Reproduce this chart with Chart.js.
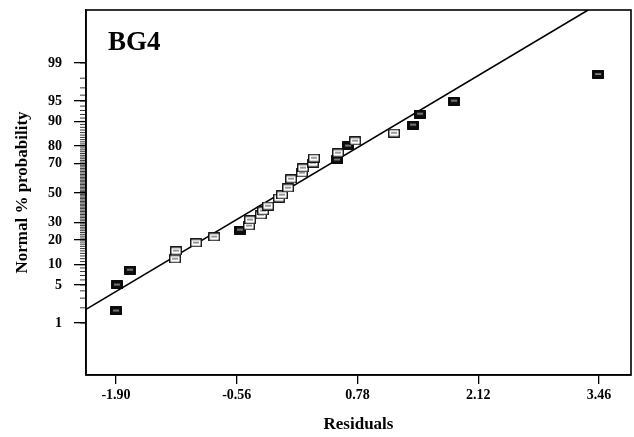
<!DOCTYPE html>
<html><head><meta charset="utf-8">
<script src="https://cdn.jsdelivr.net/npm/chart.js@4.4.1/dist/chart.umd.min.js"></script>
<style>html,body{margin:0;padding:0;background:#fff;}</style>
</head><body>
<canvas id="c" width="634" height="437"></canvas>
<script>
const panelLabel = 'BG4';
const xAxisTitle = 'Residuals';
const yAxisTitle = 'Normal % probability';
const xTickValues = [-1.90, -0.56, 0.78, 2.12, 3.46];
const yTickPercents = [1, 5, 10, 20, 30, 50, 70, 80, 90, 95, 99];

const lightResiduals = [-1.245, -1.234, -1.012, -0.81, -0.424, -0.413, -0.291, -0.268, -0.213, -0.091, -0.058, 0.009, 0.042, 0.164, 0.175, 0.286, 0.297, 0.564, 0.753, 1.185];
const lightPercents  = [11.9, 15.0, 18.6, 21.6, 27.8, 31.5, 34.7, 37.4, 40.8, 46.4, 48.6, 53.6, 59.9, 64.0, 67.3, 70.4, 73.4, 76.3, 82.4, 85.8];
const darkResiduals = [-1.90, -1.89, -1.745, -0.524, 0.553, 0.675, 1.396, 1.474, 1.851, 3.45];
const darkPercents  = [1.74, 5.0, 8.4, 25.4, 72.3, 80.0, 88.8, 92.1, 95.0, 98.3];

const fitResiduals = [-2.244, 3.339];
const fitPercents  = [1.82, 99.947];

function probit(p){
  const a=[-3.969683028665376e+01,2.209460984245205e+02,-2.759285104469687e+02,1.383577518672690e+02,-3.066479806614716e+01,2.506628277459239e+00];
  const b=[-5.447609879822406e+01,1.615858368580409e+02,-1.556989798598866e+02,6.680131188771972e+01,-1.328068155288572e+01];
  const c=[-7.784894002430293e-03,-3.223964580411365e-01,-2.400758277161838e+00,-2.549732539343734e+00,4.374664141464968e+00,2.938163982698783e+00];
  const d=[7.784695709041462e-03,3.224671290700398e-01,2.445134137142996e+00,3.754408661907416e+00];
  const pl=0.02425, ph=1-pl; let q,r;
  if(p<pl){q=Math.sqrt(-2*Math.log(p));return (((((c[0]*q+c[1])*q+c[2])*q+c[3])*q+c[4])*q+c[5])/((((d[0]*q+d[1])*q+d[2])*q+d[3])*q+1);}
  if(p>ph){q=Math.sqrt(-2*Math.log(1-p));return -(((((c[0]*q+c[1])*q+c[2])*q+c[3])*q+c[4])*q+c[5])/((((d[0]*q+d[1])*q+d[2])*q+d[3])*q+1);}
  q=p-0.5;r=q*q;return (((((a[0]*r+a[1])*r+a[2])*r+a[3])*r+a[4])*r+a[5])*q/(((((b[0]*r+b[1])*r+b[2])*r+b[3])*r+b[4])*r+1);
}
const toPts = (xs, ps) => xs.map((x,i)=>({x:x, y:probit(ps[i]/100)}));

function marker(dark){
  const cv=document.createElement('canvas'); cv.width=12; cv.height=9;
  const g=cv.getContext('2d');
  g.fillStyle = dark ? '#111' : '#fff';
  g.fillRect(0.5,0.5,11,8);
  g.strokeStyle='#000'; g.lineWidth=1.3; g.strokeRect(0.75,0.75,10.5,7.5);
  if(!dark){ g.fillStyle='#777'; g.fillRect(3,3.5,6,1.5); }
  else { g.fillStyle='#bbb'; g.fillRect(3,3.5,6,1.2); }
  return cv;
}

const serif = '"Liberation Serif", "DejaVu Serif", serif';

const decor = {
  id:'decor',
  afterDraw(chart){
    const {ctx, chartArea:ca, scales} = chart;
    ctx.save();
    ctx.strokeStyle='#000'; ctx.lineWidth=1.6;
    ctx.strokeRect(ca.left, ca.top, ca.right-ca.left, ca.bottom-ca.top);
    ctx.lineWidth=0.8;
    for(let p=1;p<=99;p++){
      const y=scales.y.getPixelForValue(probit(p/100));
      ctx.beginPath(); ctx.moveTo(ca.left-6,y); ctx.lineTo(ca.left,y); ctx.stroke();
    }
    ctx.fillStyle='#000';
    ctx.font='bold 27px '+serif;
    ctx.textAlign='left'; ctx.textBaseline='alphabetic';
    ctx.fillText(panelLabel, ca.left+22, ca.top+40);
    ctx.restore();
  }
};

function noPad(s){ s.paddingTop=0; s.paddingBottom=0; s.paddingLeft=0; s.paddingRight=0; }

new Chart(document.getElementById('c'), {
  type:'scatter',
  data:{datasets:[
    {data: toPts(fitResiduals, fitPercents), showLine:true, borderColor:'#000', borderWidth:1.6, pointRadius:0, order:3},
    {data: toPts(lightResiduals, lightPercents), pointStyle: marker(false), pointRadius:6, order:1},
    {data: toPts(darkResiduals, darkPercents), pointStyle: marker(true), pointRadius:6, order:2}
  ]},
  options:{
    responsive:false, animation:false, devicePixelRatio:1,
    layout:{autoPadding:false, padding:{top:10,right:3,left:0,bottom:0}},
    plugins:{legend:{display:false}, tooltip:{enabled:false}},
    scales:{
      x:{type:'linear', min:-2.233, max:3.815,
        afterBuildTicks(s){ s.ticks = xTickValues.map(v=>({value:v})); },
        afterFit(s){ s.height = 62; noPad(s); },
        ticks:{autoSkip:false, maxRotation:0, padding:3, color:'#000', font:{family:serif, size:14, weight:'bold'},
          callback:(v)=>Number(v).toFixed(2)},
        grid:{drawOnChartArea:false, drawTicks:true, tickLength:9, color:'#000', lineWidth:1.3},
        border:{display:true, color:'#000', width:1.6},
        title:{display:true, text:xAxisTitle, color:'#000', font:{family:serif, size:17, weight:'bold'}, padding:{top:0,bottom:2}}
      },
      y:{type:'linear', min:-3.256, max:3.274,
        afterBuildTicks(s){ s.ticks = yTickPercents.map(p=>({value:probit(p/100)})); },
        afterFit(s){ s.width = 86; noPad(s); },
        ticks:{autoSkip:false, padding:12, color:'#000', font:{family:serif, size:14, weight:'bold'},
          callback:(v,i)=>String(yTickPercents[i])},
        grid:{drawOnChartArea:false, drawTicks:true, tickLength:12, color:'#000', lineWidth:1.3},
        border:{display:true, color:'#000', width:1.6},
        title:{display:true, text:yAxisTitle, color:'#000', font:{family:serif, size:17, weight:'bold'}, padding:{top:12,bottom:0}}
      }
    }
  },
  plugins:[decor]
});
</script>
</body></html>
